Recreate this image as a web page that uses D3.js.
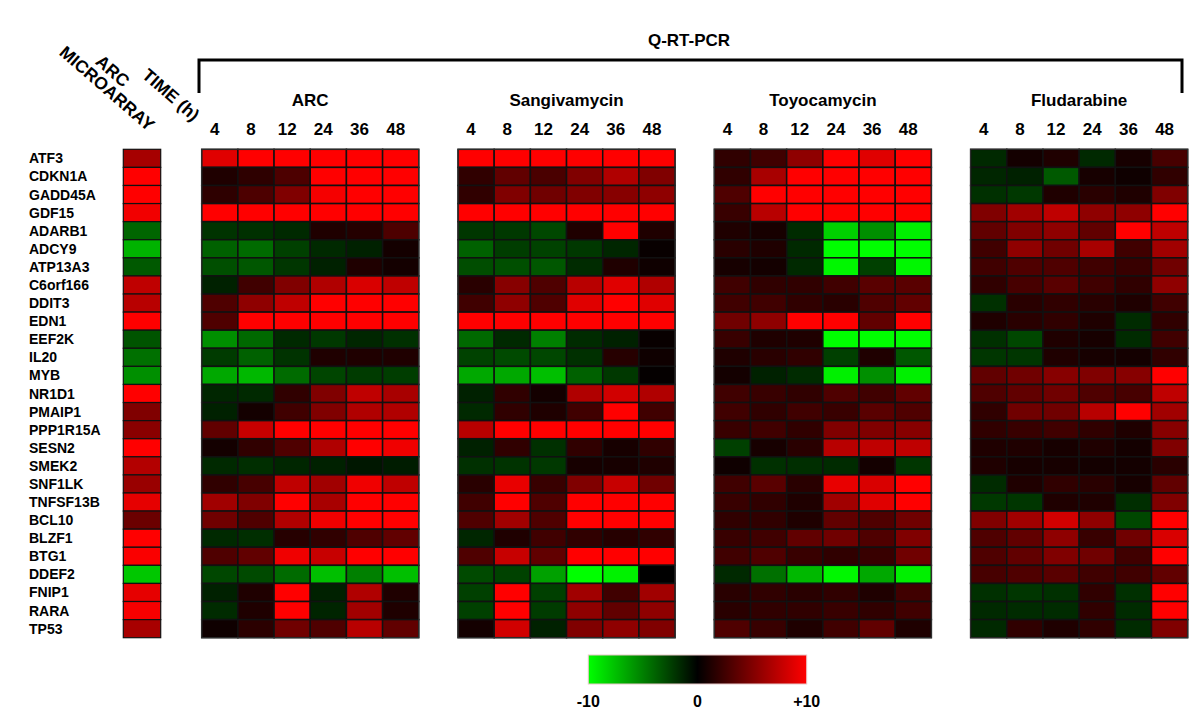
<!DOCTYPE html>
<html>
<head>
<meta charset="utf-8">
<script src="https://cdn.jsdelivr.net/npm/d3@7"></script>
<style>
  html, body { margin: 0; padding: 0; background: #fff; }
  text { font-family: "Liberation Sans", Arial, sans-serif; font-weight: bold; fill: #000; }
</style>
</head>
<body>
<svg id="chart" width="1200" height="719"></svg>
<script>
const genes = ["ATF3","CDKN1A","GADD45A","GDF15","ADARB1","ADCY9","ATP13A3","C6orf166","DDIT3","EDN1","EEF2K","IL20","MYB","NR1D1","PMAIP1","PPP1R15A","SESN2","SMEK2","SNF1LK","TNFSF13B","BCL10","BLZF1","BTG1","DDEF2","FNIP1","RARA","TP53"];
const times = ["4","8","12","24","36","48"];
const treatments = ["ARC","Sangivamycin","Toyocamycin","Fludarabine"];
const legendTicks = ["-10","0","+10"];

const microarray = [6.5,10,10,9.5,-4,-7,-3.5,7.5,7.2,10,-3.3,-4.4,-5.6,10,5,5.4,10,7,6,9,4.2,10,9.8,-7.8,9,9.7,6.6];

const arc = [
  [8.8,10,10,10,10,10],
  [1.2,1.8,3,10,10,10],
  [1.8,3,5,9.6,10,10],
  [10,10,10,10,10,10],
  [-2,-1.9,-1.6,1.2,1.4,3],
  [-3.8,-4.2,-2.5,-1.6,-1.3,0.8],
  [-3.1,-3.4,-2.1,-1.3,1.2,0.8],
  [-1.3,2.5,5,6.9,8.5,7.5],
  [3.1,5.6,7.5,10,10,10],
  [3.1,10,10,10,10,10],
  [-5.6,-4.1,-1.6,-2.2,-1.5,-1.9],
  [-2.3,-3.8,-2,1.2,1.2,1.2],
  [-6.6,-7.2,-4.2,-2.7,-2.3,-2.4],
  [-1.5,-1.6,1.9,5,7.5,6.6],
  [-1.3,0.8,2.5,5,6.9,6.9],
  [3.8,7.8,10,10,10,10],
  [0.8,1.9,3.1,6.9,10,9.4],
  [-1.6,-1.8,-1.5,-1.3,-0.9,-1.1],
  [1.9,2.8,7.5,6.3,9.4,7.5],
  [6.3,5,10,6.6,10,10],
  [4.4,3.1,6.9,9.4,10,10],
  [-1.6,-1.8,1.5,1.9,3.1,3.8],
  [3.1,3.8,9.4,7.8,10,10],
  [-2.8,-2.9,-4.2,-7.5,-5,-7.5],
  [-1.3,1.2,10,-1.3,6.9,1.2],
  [-1.7,1.2,10,-1.4,6.3,1.2],
  [0.6,1.7,4.4,3.1,7.2,3.8]
];

const sangivamycin = [
  [10,10,10,10,10,10],
  [1.9,3.8,2.9,5,6.9,5],
  [1.9,5,4.4,5,5.3,5.6],
  [10,10,10,10,10,10],
  [-2.1,-2.2,-2.8,1.2,10,1.2],
  [-3.8,-2.4,-2.6,-2.2,-1.5,0.3],
  [-3,-3.1,-3.4,-1.7,1.2,0.6],
  [1.6,5.3,3.1,7.2,8.8,6.9],
  [2.5,5.6,3.1,8.8,10,8.8],
  [10,10,10,10,10,10],
  [-4.1,-1.6,-5,-1.7,-1.3,0.3],
  [-2.6,-2.9,-2.8,-1.9,1.5,0.6],
  [-6.6,-6.6,-7.5,-3.8,-2.2,0.2],
  [-1.3,1.9,0.8,6.9,8.2,6.9],
  [-1.6,1.9,1.2,2.5,10,2.5],
  [7.2,10,10,10,10,10],
  [-1.3,1.9,-1.9,1.9,0.9,1.9],
  [-1.9,-2,-2.2,0.9,0.9,1.2],
  [1.6,9.1,2.2,5,7.8,4.4],
  [2.5,10,3.1,10,10,10],
  [3.1,6.3,3.1,10,10,10],
  [-1.5,1.2,2.5,1.9,1.5,1.9],
  [3.1,7.8,3.8,10,10,10],
  [-2.9,-2.6,-6.3,-10,-9.5,0],
  [-2.5,10,-2.5,6.3,2.5,6.3],
  [-2.5,10,-2.3,5.6,3.8,5.6],
  [0.8,8.2,-1.3,5,5.6,5]
];

const toyocamycin = [
  [1.9,2.5,5.6,10,8.8,10],
  [1.9,6.6,10,10,10,10],
  [3.1,10,10,10,10,10],
  [2.2,7.2,10,10,10,10],
  [1.2,0.9,-1.7,-8.2,-5.6,-9.4],
  [1.6,1.2,-1.6,-10,-10,-10],
  [0.9,0.8,-1.6,-9.7,-2.5,-9.7],
  [2.5,1.9,1.9,2.5,3.5,3.5],
  [2.5,2.5,1.9,1.6,3.1,3.8],
  [4.4,5.6,10,10,3.8,10],
  [2.2,1.2,1.2,-10,-10,-10],
  [1.2,1.6,1.9,-2.5,1.2,-3.4],
  [0.8,-1.3,-1.7,-9.4,-5.6,-9.4],
  [2.5,2.2,1.9,3.1,2.5,3.8],
  [2.5,1.9,2.5,2.2,3.5,3.1],
  [2.2,2.5,1.9,5,5,5.3],
  [-2.5,0.9,1.6,7.2,7.5,7.5],
  [0.6,-1.9,-1.8,-1.7,0.8,-2.1],
  [2.5,3.5,1.6,9.1,8.5,10],
  [2.2,1.9,1.2,6.3,8.8,10],
  [1.9,1.9,1.2,3.8,3.1,4.4],
  [2.2,2.5,3.8,4.4,3.1,5],
  [2.5,3.1,2.2,1.9,2.2,4.4],
  [-1.6,-4.4,-7.2,-9.7,-6.6,-9.4],
  [1.6,1.9,1.6,1.9,1.2,2.5],
  [1.6,1.9,1.9,2.2,1.9,2.5],
  [3.1,2.2,1.2,2.5,3.8,1.2]
];

const fludarabine = [
  [-1.6,0.8,1.2,-1.6,0.9,2.8],
  [-1.5,-1.3,-3.5,0.9,0.6,1.9],
  [-1.9,-2.2,1.2,1.6,1.2,5],
  [5,6.3,7.5,5.6,5.6,10],
  [3.8,5,5.6,3.8,10,7.5],
  [2.5,5.6,4.4,6.6,2.5,6.3],
  [2.5,3.1,3.1,2.5,2.2,4.4],
  [1.9,2.8,3.5,2.5,1.9,5.6],
  [-1.9,1.6,1.9,1.6,1.2,2.5],
  [1.2,1.6,1.9,1.2,-1.7,1.9],
  [-1.9,-2.8,1.2,0.9,-1.7,2.5],
  [-2.1,-2.1,1.2,0.9,0.8,1.9],
  [3.8,4.4,5.3,5,5.3,10],
  [3.1,3.8,4.4,3.1,2.8,7.5],
  [1.9,4.4,4.4,7.2,10,6.3],
  [1.9,2.2,2.5,1.9,1.2,5.3],
  [1.2,1.2,0.9,1.2,0.8,5],
  [1.2,0.9,0.9,0.8,0.8,1.6],
  [-1.7,1.2,1.9,1.6,0.9,3.8],
  [-2.2,-2.1,1.2,1.2,-1.8,5],
  [5,6.3,8.2,5.6,-2.8,10],
  [3.1,3.8,5.6,2.2,4.4,8.5],
  [3.1,3.8,5,4.4,2.5,10],
  [2.8,3.1,3.5,2.5,2.5,3.8],
  [-1.9,-2.1,-1.9,1.9,-1.9,10],
  [-1.6,-1.7,-1.7,1.9,-1.7,10],
  [-1.6,1.9,1.2,1.9,-1.7,5]
];

const panelData = [arc, sangivamycin, toyocamycin, fludarabine];

const svg = d3.select("#chart");
const color = d3.scaleLinear().domain([-10, 0, 10]).range(["#00ff00", "#000000", "#ff0000"]).clamp(true);

const y = d3.scaleBand().domain(genes).range([149.3, 637.7]);
const px = d3.scaleBand().domain(treatments).range([201.7, 1187.7]).paddingInner(0.153);
const mx = d3.scaleBand().domain(["ARC"]).range([123.3, 160.7]);

// gene labels
svg.append("g").selectAll("text").data(genes).join("text")
  .attr("x", 29).attr("y", d => y(d) + y.bandwidth() / 2)
  .attr("dominant-baseline", "central")
  .style("font-size", "14px")
  .text(d => d);

// microarray column
svg.append("g").selectAll("rect").data(microarray).join("rect")
  .attr("x", mx("ARC")).attr("y", (d, i) => y(genes[i]))
  .attr("width", mx.bandwidth()).attr("height", y.bandwidth())
  .attr("fill", d => color(d)).attr("stroke", "#111").attr("stroke-width", 1.2);

// panels
treatments.forEach((t, pi) => {
  const x = d3.scaleBand().domain(times).range([px(t), px(t) + px.bandwidth()]);
  const g = svg.append("g");
  const cells = [];
  panelData[pi].forEach((row, ri) => row.forEach((v, ci) => cells.push({g: genes[ri], t: times[ci], v})));
  g.selectAll("rect").data(cells).join("rect")
    .attr("x", d => x(d.t)).attr("y", d => y(d.g))
    .attr("width", x.bandwidth()).attr("height", y.bandwidth())
    .attr("fill", d => color(d.v)).attr("stroke", "#111").attr("stroke-width", 1.5);
  g.append("rect").attr("x", px(t)).attr("y", y.range()[0])
    .attr("width", px.bandwidth()).attr("height", y.range()[1] - y.range()[0])
    .attr("fill", "none").attr("stroke", "#333").attr("stroke-width", 1);
  // title
  svg.append("text").attr("x", px(t) + px.bandwidth() / 2).attr("y", 106)
    .attr("text-anchor", "middle").style("font-size", "17px").text(t);
  // time labels
  svg.append("g").selectAll("text").data(times).join("text")
    .attr("x", d => x(d) + x.bandwidth() / 2 - 5).attr("y", 135)
    .attr("text-anchor", "middle").style("font-size", "17px").text(d => d);
});

// bracket
svg.append("path").attr("d", "M199,93V60H1182V93")
  .attr("fill", "none").attr("stroke", "#000").attr("stroke-width", 3);
svg.append("text").attr("x", 689).attr("y", 46).attr("text-anchor", "middle")
  .style("font-size", "17px").text("Q-RT-PCR");

// rotated header labels
const rot = [
  {t: "MICROARRAY", x: 148, y: 132},
  {t: "ARC", x: 123, y: 88},
  {t: "TIME (h)", x: 193, y: 122}
];
svg.append("g").selectAll("text").data(rot).join("text")
  .attr("text-anchor", "end")
  .attr("transform", d => `translate(${d.x},${d.y}) rotate(41)`)
  .style("font-size", "17.5px").text(d => d.t);

// legend
const defs = svg.append("defs");
const grad = defs.append("linearGradient").attr("id", "lg");
[-10, 0, 10].forEach(v => grad.append("stop")
  .attr("offset", ((v + 10) / 20 * 100) + "%").attr("stop-color", color(v)));
const lx = d3.scaleLinear().domain([-10, 10]).range([588.3, 806.7]);
svg.append("rect").attr("x", lx(-10)).attr("y", 655).attr("width", lx(10) - lx(-10)).attr("height", 29)
  .attr("fill", "url(#lg)").attr("stroke", "#e8c8c8").attr("stroke-width", 1);
svg.append("g").selectAll("text").data(legendTicks).join("text")
  .attr("x", d => lx(+d)).attr("y", 707).attr("text-anchor", "middle")
  .style("font-size", "16px").text(d => d);
</script>
</body>
</html>
